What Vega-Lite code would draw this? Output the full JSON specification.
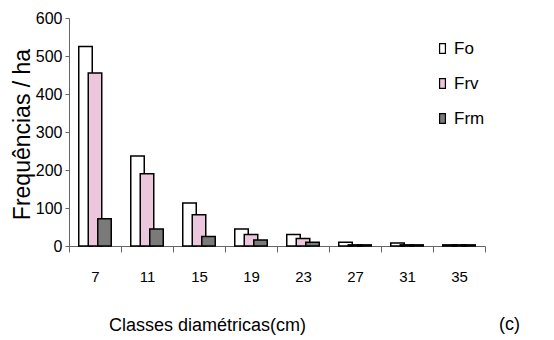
{
  "$schema": "https://vega.github.io/schema/vega-lite/v6.json",
  "width": 416,
  "height": 228,
  "autosize": "none",
  "padding": {"left": 69, "top": 18, "right": 69, "bottom": 94},
  "background": "white",
  "config": {"view": {"stroke": null}, "font": "Liberation Sans"},
  "title": {"text": "(c)", "orient": "bottom", "anchor": "end", "frame": "group", "fontSize": 18, "fontWeight": "normal", "font": "Liberation Sans", "dx": 35, "dy": -13, "baseline": "middle"},
  "data": {"values": [
    {"classe": "7", "serie": "Fo", "freq": 525},
    {"classe": "7", "serie": "Frv", "freq": 455},
    {"classe": "7", "serie": "Frm", "freq": 72},
    {"classe": "11", "serie": "Fo", "freq": 237},
    {"classe": "11", "serie": "Frv", "freq": 190},
    {"classe": "11", "serie": "Frm", "freq": 45},
    {"classe": "15", "serie": "Fo", "freq": 113},
    {"classe": "15", "serie": "Frv", "freq": 82},
    {"classe": "15", "serie": "Frm", "freq": 25},
    {"classe": "19", "serie": "Fo", "freq": 45},
    {"classe": "19", "serie": "Frv", "freq": 30},
    {"classe": "19", "serie": "Frm", "freq": 16},
    {"classe": "23", "serie": "Fo", "freq": 30},
    {"classe": "23", "serie": "Frv", "freq": 20},
    {"classe": "23", "serie": "Frm", "freq": 10},
    {"classe": "27", "serie": "Fo", "freq": 10},
    {"classe": "27", "serie": "Frv", "freq": 3},
    {"classe": "27", "serie": "Frm", "freq": 3},
    {"classe": "31", "serie": "Fo", "freq": 8},
    {"classe": "31", "serie": "Frv", "freq": 3},
    {"classe": "31", "serie": "Frm", "freq": 3},
    {"classe": "35", "serie": "Fo", "freq": 3},
    {"classe": "35", "serie": "Frv", "freq": 3},
    {"classe": "35", "serie": "Frm", "freq": 3}
  ]},
  "encoding": {
    "x": {
      "field": "classe", "type": "ordinal",
      "sort": ["7", "11", "15", "19", "23", "27", "31", "35"],
      "scale": {"paddingInner": 0, "paddingOuter": 0},
      "axis": {
        "labelAngle": 0, "tickBand": "extent", "domainColor": "#666666", "tickColor": "#666666",
        "tickSize": 6, "labelFontSize": 15, "labelPadding": 17, "labelColor": "black",
        "labelFont": "Liberation Sans",
        "title": "Classes diamétricas(cm)", "titleFontSize": 18, "titleFontWeight": "normal",
        "titleFont": "Liberation Sans", "titleColor": "black",
        "titleX": 138, "titleY": 79, "titleBaseline": "middle", "titleAlign": "center"
      }
    },
    "y": {
      "field": "freq", "type": "quantitative",
      "scale": {"domain": [0, 600]},
      "axis": {
        "values": [0, 100, 200, 300, 400, 500, 600], "grid": false,
        "domainColor": "#666666", "tickColor": "#666666", "tickSize": 4, "labelPadding": 3,
        "labelFontSize": 16, "labelFont": "Liberation Sans", "labelColor": "black",
        "title": "Frequências / ha", "titleFontSize": 23, "titleFontWeight": "normal",
        "titleFont": "Liberation Sans", "titleColor": "black",
        "titleAngle": -90, "titleX": -47, "titleY": 116, "titleBaseline": "middle", "titleAlign": "center"
      }
    },
    "color": {
      "field": "serie", "type": "nominal",
      "scale": {"domain": ["Fo", "Frv", "Frm"], "range": ["#ffffff", "#ebc6dc", "#7a7a7a"]},
      "legend": {
        "title": null, "orient": "none", "legendX": 365, "legendY": 22,
        "symbolType": "M-0.6,-1V1H0.6V-1Z", "symbolSize": 95, "symbolStrokeColor": "black",
        "symbolStrokeWidth": 1.2, "symbolOpacity": 1,
        "labelFontSize": 17, "labelFont": "Liberation Sans", "labelColor": "black",
        "rowPadding": 17, "labelOffset": 3
      }
    }
  },
  "layer": [
    {"transform": [{"filter": "datum.serie === 'Fo'"}],
     "mark": {"type": "bar", "width": 13.5, "xOffset": -9.5, "stroke": "black", "strokeWidth": 1.5}},
    {"transform": [{"filter": "datum.serie === 'Frv'"}],
     "mark": {"type": "bar", "width": 13.5, "xOffset": 0, "stroke": "black", "strokeWidth": 1.5}},
    {"transform": [{"filter": "datum.serie === 'Frm'"}],
     "mark": {"type": "bar", "width": 13.5, "xOffset": 9.5, "stroke": "black", "strokeWidth": 1.5}}
  ]
}
